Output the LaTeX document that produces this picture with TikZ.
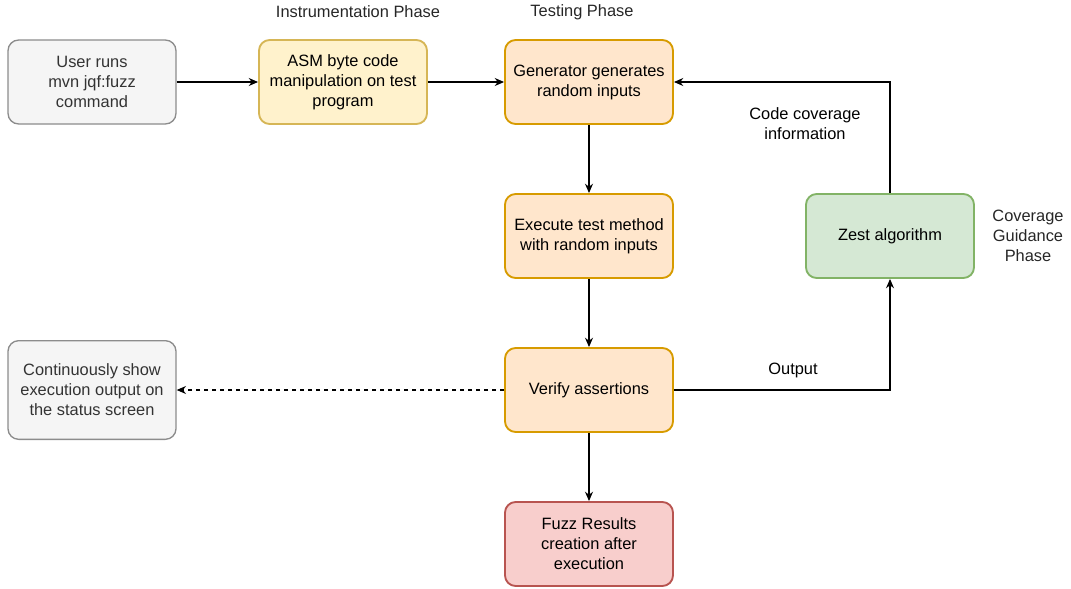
\documentclass[tikz,border=0pt]{standalone}
\usepackage{fontspec}
\setmainfont{Liberation Sans}
\usepackage{tikz}
\usetikzlibrary{arrows.meta}
\definecolor{greyFill}{HTML}{F5F5F5}
\definecolor{greyLine}{HTML}{8C8C8C}
\definecolor{greyText}{HTML}{333333}
\definecolor{yellowFill}{HTML}{FFF2CC}
\definecolor{yellowLine}{HTML}{D6B656}
\definecolor{orangeFill}{HTML}{FFE6CC}
\definecolor{orangeLine}{HTML}{D79B00}
\definecolor{redFill}{HTML}{F8CECC}
\definecolor{redLine}{HTML}{B85450}
\definecolor{greenFill}{HTML}{D5E8D4}
\definecolor{greenLine}{HTML}{82B366}

\begin{document}
\begin{tikzpicture}[x=0.75pt, y=-0.75pt,
  every node/.style={font=\fontsize{12.3}{15}\selectfont, align=center},
  box/.style={rounded corners=8pt, minimum width=126pt, minimum height=63pt, line width=1.4pt},
  greybox/.style={box, draw=greyLine, fill=greyFill, text=greyText, line width=1pt},
  yellowbox/.style={box, draw=yellowLine, fill=yellowFill},
  orangebox/.style={box, draw=orangeLine, fill=orangeFill},
  redbox/.style={box, draw=redLine, fill=redFill},
  greenbox/.style={box, draw=greenLine, fill=greenFill},
  arr/.style={-{Stealth[length=7pt, width=6pt]}, line width=0.9pt},
  phase/.style={text=black!85}]
\useasboundingbox (0,0) rectangle (1071,589);
% Phase titles
\node[phase] (instTitle) at (358,12) {Instrumentation Phase};
\node[phase] (testTitle) at (582,12) {Testing Phase};
\node[phase] (guideTitle) at (1028,236) {Coverage\\Guidance\\Phase};
% Boxes
\node[greybox] (user) at (92,82) {User runs\\mvn jqf:fuzz\\command};
\node[yellowbox] (asm) at (343,82) {ASM byte code\\manipulation on test\\program};
\node[orangebox] (gen) at (589,82) {Generator generates\\random inputs};
\node[orangebox] (exec) at (589,236) {Execute test method\\with random inputs};
\node[orangebox] (verify) at (589,390) {Verify assertions};
\node[redbox] (results) at (589,544) {Fuzz Results\\creation after\\execution};
\node[greybox, minimum height=74pt] (status) at (92,390) {Continuously show\\execution output on\\the status screen};
\node[greenbox] (zest) at (890,236) {Zest algorithm};
% Connectors
\draw[arr] (user) -- (asm);
\draw[arr] (asm) -- (gen);
\draw[arr] (gen) -- (exec);
\draw[arr] (exec) -- (verify);
\draw[arr] (verify) -- (results);
\draw[arr, dashed] (verify) -- (status);
\draw[arr] (verify.east) -| (zest.south);
\draw[arr] (zest.north) |- (gen.east);
% Edge labels
\node (outLabel) at (793,370) {Output};
\node (covLabel) at (805,124) {Code coverage\\information};
\end{tikzpicture}
\end{document}
